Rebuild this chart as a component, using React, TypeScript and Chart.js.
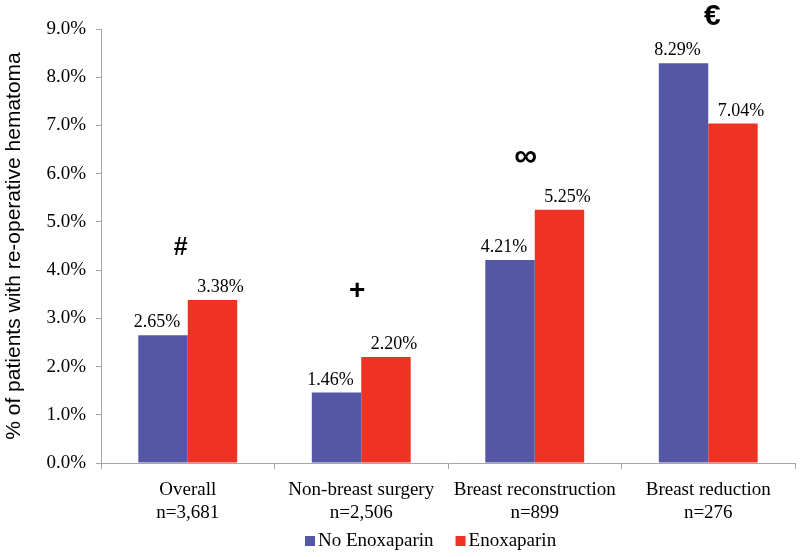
import React, { useEffect, useRef } from "react";
import { Chart, registerables } from "chart.js";

Chart.register(...registerables);

const categories = ["Overall", "Non-breast surgery", "Breast reconstruction", "Breast reduction"];
const sampleSizes = ["n=3,681", "n=2,506", "n=899", "n=276"];
const noEnoxaparin = [2.65, 1.46, 4.21, 8.29];
const enoxaparin = [3.38, 2.2, 5.25, 7.04];
const seriesNames = ["No Enoxaparin", "Enoxaparin"];
const seriesColors = ["#5457a6", "#ee3325"];
const significanceMarks = ["#", "+", "\u221E", "\u20AC"];
const markPositions = [4.45, 3.57, 6.35, 9.25];
const yTicks = [0, 1, 2, 3, 4, 5, 6, 7, 8, 9];

const SERIF = "'Liberation Serif', 'Times New Roman', serif";
const SANS = "'Liberation Sans', Arial, sans-serif";

const annotationPlugin = {
  id: "barAnnotations",
  afterDatasetsDraw(chart: any) {
    const ctx = chart.ctx;
    const dxs = [-6, 8];
    ctx.save();
    ctx.fillStyle = "#000";
    ctx.font = `18px ${SERIF}`;
    ctx.textAlign = "center";
    ctx.textBaseline = "alphabetic";
    chart.data.datasets.forEach((ds: any, di: number) => {
      const meta = chart.getDatasetMeta(di);
      meta.data.forEach((bar: any, i: number) => {
        const v = ds.data[i] as number;
        ctx.fillText(v.toFixed(2) + "%", bar.x + dxs[di], bar.y - 8);
      });
    });
    const xs = chart.scales.x;
    const ys = chart.scales.y;
    const sizes = [25, 28, 32, 30];
    const dx = [-7, -4, -9, 4];
    significanceMarks.forEach((m, i) => {
      ctx.font = `bold ${sizes[i]}px ${SANS}`;
      ctx.textAlign = "center";
      ctx.textBaseline = "middle";
      ctx.fillText(m, xs.getPixelForValue(i) + dx[i], ys.getPixelForValue(markPositions[i]));
    });

    // legend
    ctx.font = `19px ${SERIF}`;
    ctx.textBaseline = "middle";
    ctx.textAlign = "left";
    let x = 305;
    const y = 541;
    chart.data.datasets.forEach((ds: any) => {
      ctx.fillStyle = ds.backgroundColor;
      ctx.fillRect(x, y - 5, 10, 10);
      ctx.fillStyle = "#000";
      ctx.fillText(ds.label, x + 13, y);
      x += 13 + ctx.measureText(ds.label).width + 22;
    });
    ctx.restore();
  },
};

export default function App() {
  const ref = useRef<HTMLCanvasElement | null>(null);
  useEffect(() => {
    if (!ref.current) return;
    const chart = new Chart(ref.current, {
      type: "bar",
      data: {
        labels: categories.map((c, i) => [c, sampleSizes[i]]),
        datasets: [
          {
            label: seriesNames[0],
            data: noEnoxaparin,
            backgroundColor: seriesColors[0],
            categoryPercentage: 0.57,
            barPercentage: 1.0,
          },
          {
            label: seriesNames[1],
            data: enoxaparin,
            backgroundColor: seriesColors[1],
            categoryPercentage: 0.57,
            barPercentage: 1.0,
          },
        ],
      },
      options: {
        responsive: false,
        animation: false,
        layout: { padding: { left: 0, right: 5, top: 29, bottom: 0 } },
        plugins: {
          tooltip: { enabled: false },
          legend: { display: false },
        },
        scales: {
          x: {
            grid: {
              offset: true,
              drawOnChartArea: false,
              drawTicks: true,
              tickLength: 6,
              color: "#a6a6a6",
            },
            border: { color: "#a6a6a6", width: 1 },
            ticks: {
              color: "#000",
              padding: 10,
              font: { family: SERIF, size: 19, lineHeight: 1.2 },
              maxRotation: 0,
              autoSkip: false,
            },
            afterFit: (s: any) => {
              s.height = 94;
            },
          },
          y: {
            min: 0,
            max: 9,
            afterBuildTicks: (s: any) => {
              s.ticks = yTicks.map((v) => ({ value: v }));
            },
            grid: {
              drawOnChartArea: false,
              drawTicks: true,
              tickLength: 5,
              color: "#a6a6a6",
            },
            border: { color: "#a6a6a6", width: 1 },
            ticks: {
              color: "#000",
              padding: 10,
              font: { family: SERIF, size: 19 },
              callback: (v: any) => Number(v).toFixed(1) + "%",
            },
            title: {
              display: true,
              text: "% of patients with re-operative hematoma",
              color: "#000",
              font: { family: SANS, size: 21 },
              padding: { top: 2, bottom: 0 },
            },
            afterFit: (s: any) => {
              s.width = 101;
            },
          },
        },
      },
      plugins: [annotationPlugin],
    });
    return () => chart.destroy();
  }, []);
  return (
    <div style={{ position: "fixed", left: 0, top: 0, width: 800, height: 557, background: "#fff" }}>
      <canvas ref={ref} width={800} height={557} />
    </div>
  );
}
